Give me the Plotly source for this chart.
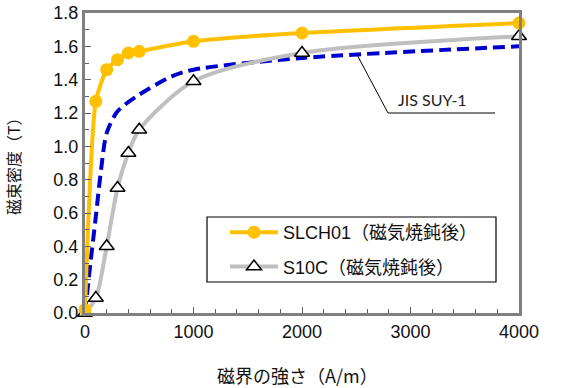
import plotly.graph_objects as go

# Data (H in A/m, B in T)
H_slch = [0, 100, 200, 300, 400, 500, 1000, 2000, 4000]
B_slch = [0.02, 1.27, 1.46, 1.52, 1.56, 1.57, 1.63, 1.68, 1.74]

H_s10c = [0, 100, 200, 300, 400, 500, 1000, 2000, 4000]
B_s10c = [0.0, 0.09, 0.40, 0.75, 0.96, 1.10, 1.39, 1.56, 1.66]

H_jis = [0, 25, 50, 100, 150, 200, 300, 500, 800, 1000, 2000, 4000]
B_jis = [0.0, 0.15, 0.30, 0.58, 0.87, 1.08, 1.21, 1.31, 1.42, 1.46, 1.53, 1.60]

x_ticks = [0, 1000, 2000, 3000, 4000]
y_ticks = [0.0, 0.2, 0.4, 0.6, 0.8, 1.0, 1.2, 1.4, 1.6, 1.8]

FONT = "Liberation Sans, Arial, Noto Sans CJK JP, sans-serif"
JP = "Noto Sans CJK JP, sans-serif"

# plot area in page pixels (reference)
PL, PR, PT, PB = 85, 519, 13, 313
PW, PH = PR - PL, PB - PT


def px(xp):
    return (xp - PL) / PW


def py(yp):
    return (PB - yp) / PH


fig = go.Figure()

fig.add_trace(go.Scatter(
    x=H_jis, y=B_jis, mode="lines", showlegend=False,
    line=dict(color="#0000CC", width=4, dash="12px,6px", shape="spline", smoothing=0.8),
    cliponaxis=False,
))
fig.add_trace(go.Scatter(
    x=H_s10c, y=B_s10c, mode="lines+markers", name="S10C（磁気焼鈍後）",
    legendgroup="b", legendrank=2,
    line=dict(color="#BFBFBF", width=4, shape="spline", smoothing=0.8),
    marker=dict(symbol="triangle-up", size=13, color="white",
                line=dict(color="black", width=1.5)),
    cliponaxis=False,
))
fig.add_trace(go.Scatter(
    x=H_slch, y=B_slch, mode="lines+markers", name="SLCH01（磁気焼鈍後）",
    legendgroup="a", legendrank=1,
    line=dict(color="#FFC000", width=4, shape="spline", smoothing=0.6),
    marker=dict(symbol="circle", size=13, color="#FFC000"),
    cliponaxis=False,
))

axis_common = dict(
    showline=True, mirror=True, linecolor="#808080", linewidth=3,
    showgrid=False, zeroline=False, ticks="inside", tickcolor="#606060",
    ticklen=6, tickwidth=1, automargin=False, ticklabeloverflow="allow",
    tickfont=dict(family=FONT, size=18, color="#111111"),
)

fig.update_xaxes(range=[0, 4000], tickvals=x_ticks,
                 minor=dict(dtick=200, ticks="inside", ticklen=4, tickcolor="#606060"),
                 **axis_common)
fig.update_yaxes(range=[0, 1.8], tickvals=y_ticks, tickformat=".1f",
                 minor=dict(dtick=0.1, ticks="inside", ticklen=4, tickcolor="#606060"),
                 **axis_common)

# Axis titles
fig.add_annotation(text="磁界の強さ（A/m）", xref="paper", yref="paper",
                   x=px(297), y=py(375), showarrow=False,
                   xanchor="center", yanchor="middle",
                   font=dict(family=JP, size=18, color="#111111"))
fig.add_annotation(text="磁束密度（T）", xref="paper", yref="paper",
                   x=px(13), y=py(162), textangle=-90, showarrow=False,
                   xanchor="center", yanchor="middle",
                   font=dict(family=JP, size=16, color="#111111"))

# JIS SUY-1 callout
fig.add_shape(type="path", xref="x", yref="y",
              path="M 2507,1.55 L 2793,1.20 L 3779,1.20",
              line=dict(color="black", width=1))
fig.add_annotation(text="JIS SUY-1", x=3207, y=1.28, xref="x", yref="y",
                   showarrow=False, xanchor="center", yanchor="middle",
                   font=dict(family="Lato, Open Sans, sans-serif", size=16, color="#222222"))

# legend frame
fig.add_shape(type="rect", xref="paper", yref="paper",
              x0=px(207), x1=px(496), y0=py(282), y1=py(217),
              line=dict(color="black", width=1.2), fillcolor="rgba(0,0,0,0)", layer="above")

fig.update_layout(
    width=581, height=388,
    margin=dict(l=PL, r=581 - PR, t=PT, b=388 - PB),
    plot_bgcolor="white", paper_bgcolor="white",
    font=dict(family=FONT, color="#111111"),
    legend=dict(x=px(225), y=py(214), xanchor="left", yanchor="top",
                bgcolor="rgba(0,0,0,0)", borderwidth=0,
                font=dict(family=FONT + ", " + JP, size=18, color="#111111"),
                traceorder="grouped", tracegroupgap=8, itemwidth=48),
)

fig.write_html("out.html", config={"displayModeBar": False},
               post_script="document.body.style.margin='0';")
